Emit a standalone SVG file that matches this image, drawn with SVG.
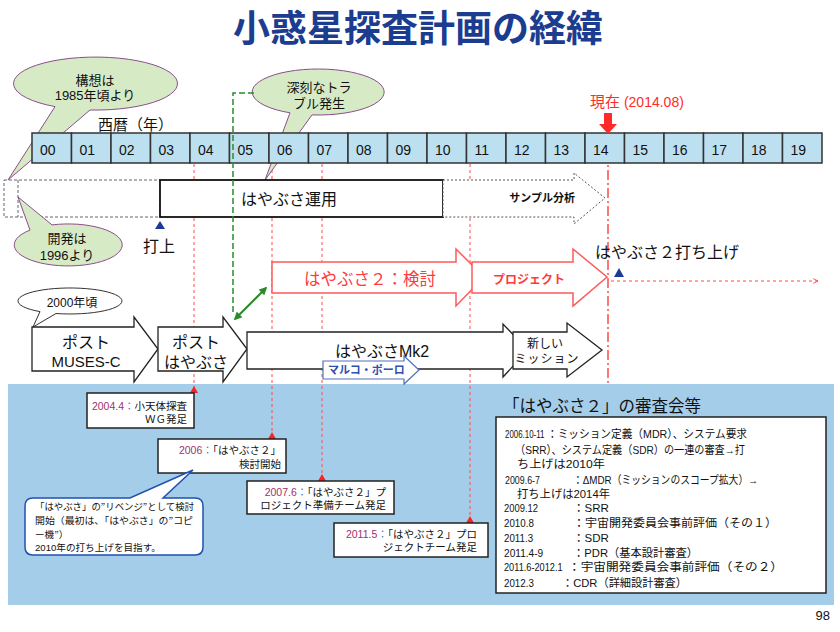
<svg xmlns="http://www.w3.org/2000/svg" width="840" height="632" viewBox="0 0 840 632">
<defs>
<style>
text{font-family:'Liberation Sans','Noto Sans CJK JP',sans-serif;fill:#111}
.cell{fill:#bde0f1;stroke:#333;stroke-width:1.5}
.yr{font-size:14px}
.bub{fill:#d6eac6;stroke:#8b4f8b;stroke-width:1}
.wa{fill:#fff;stroke:#222;stroke-width:1.3}
.ra{fill:#fff;stroke:#ff5a5a;stroke-width:1.5}
.rt{fill:#ff3b3b}
.rd{stroke:#ff4a4a;stroke-width:1;stroke-dasharray:3 3;fill:none}
.rtri{fill:#ff2020}
.btri{fill:#1a3a9a}
.bx{fill:#fff;stroke:#222;stroke-width:1.5}
.dt{fill:#a0306e}
.cl{fill:#4a78d0}
.bt{font-size:10.5px}
.rv{font-size:11.5px}
.cb{font-size:9.6px}
.q{font-family:'Noto Sans CJK JP',sans-serif}
</style>
<marker id="chev" viewBox="0 0 10 10" refX="9" refY="5" markerWidth="6" markerHeight="6" orient="auto"><path d="M1,1 L9,5 L1,9" fill="none" stroke="#ff4a4a" stroke-width="1.5"/></marker>
<marker id="garr" viewBox="0 0 10 10" refX="8" refY="5" markerWidth="4" markerHeight="4" orient="auto-start-reverse"><path d="M0,0 L10,5 L0,10 z" fill="#2a8a2a"/></marker>
</defs>
<rect width="840" height="632" fill="#fff"/>

<g id="title"><text x="418" y="42" text-anchor="middle" font-size="37" font-weight="bold" style="fill:#1b3c8f">小惑星探査計画の経緯</text></g>

<g id="panel"><rect x="8" y="384" width="826" height="221" fill="#a4cde9"/></g>

<g id="connectors">
<line class="rd" x1="194" y1="164" x2="194" y2="387"/>
<line class="rd" x1="272" y1="164" x2="272" y2="433"/>
<line class="rd" x1="322" y1="164" x2="322" y2="475"/>
<line class="rd" x1="470" y1="164" x2="470" y2="517"/>
<line x1="608" y1="134" x2="608" y2="386" stroke="#ff4a4a" stroke-width="1.5" stroke-dasharray="10 3 2 3"/>
<polygon class="rtri" points="190,393 198,393 194,386"/>
<polygon class="rtri" points="268,439 276,439 272,432"/>
<polygon class="rtri" points="318,481 326,481 322,474"/>
<polygon class="rtri" points="466,523 474,523 470,516"/>
<line x1="611" y1="281" x2="818" y2="281" stroke="#ff4a4a" stroke-width="1" stroke-dasharray="3 3" marker-end="url(#chev)"/>
</g>

<g id="callout-kousou">
<path class="bub" d="M90,110 L8,180 L55,106.6 A82 26.5 0 1 1 90,110 Z"/>
<text x="95" y="85" text-anchor="middle" font-size="13">構想は</text>
<text x="95" y="100" text-anchor="middle" font-size="13">1985年頃より</text>
</g>
<g id="callout-trouble">
<path class="bub" d="M312,114.9 L265,180 L290,112.8 A66 23 0 1 1 312,114.9 Z"/>
<text x="319" y="92" text-anchor="middle" font-size="13">深刻なトラ</text>
<text x="319" y="108" text-anchor="middle" font-size="13">ブル発生</text>
</g>

<g id="timeline">
<text x="98" y="130" font-size="15">西暦（年）</text>
<rect class="cell" x="32" y="133" width="39.5" height="30"/><text class="yr" x="40" y="155">00</text>
<rect class="cell" x="71.5" y="133" width="39.5" height="30"/><text class="yr" x="79.5" y="155">01</text>
<rect class="cell" x="111" y="133" width="39.5" height="30"/><text class="yr" x="119" y="155">02</text>
<rect class="cell" x="150.5" y="133" width="39.5" height="30"/><text class="yr" x="158.5" y="155">03</text>
<rect class="cell" x="190" y="133" width="39.5" height="30"/><text class="yr" x="198" y="155">04</text>
<rect class="cell" x="229.5" y="133" width="39.5" height="30"/><text class="yr" x="237.5" y="155">05</text>
<rect class="cell" x="269" y="133" width="39.5" height="30"/><text class="yr" x="277" y="155">06</text>
<rect class="cell" x="308.5" y="133" width="39.5" height="30"/><text class="yr" x="316.5" y="155">07</text>
<rect class="cell" x="348" y="133" width="39.5" height="30"/><text class="yr" x="356" y="155">08</text>
<rect class="cell" x="387.5" y="133" width="39.5" height="30"/><text class="yr" x="395.5" y="155">09</text>
<rect class="cell" x="427" y="133" width="39.5" height="30"/><text class="yr" x="435" y="155">10</text>
<rect class="cell" x="466.5" y="133" width="39.5" height="30"/><text class="yr" x="474.5" y="155">11</text>
<rect class="cell" x="506" y="133" width="39.5" height="30"/><text class="yr" x="514" y="155">12</text>
<rect class="cell" x="545.5" y="133" width="39.5" height="30"/><text class="yr" x="553.5" y="155">13</text>
<rect class="cell" x="585" y="133" width="39.5" height="30"/><text class="yr" x="593" y="155">14</text>
<rect class="cell" x="624.5" y="133" width="39.5" height="30"/><text class="yr" x="632.5" y="155">15</text>
<rect class="cell" x="664" y="133" width="39.5" height="30"/><text class="yr" x="672" y="155">16</text>
<rect class="cell" x="703.5" y="133" width="39.5" height="30"/><text class="yr" x="711.5" y="155">17</text>
<rect class="cell" x="743" y="133" width="39.5" height="30"/><text class="yr" x="751" y="155">18</text>
<rect class="cell" x="782.5" y="133" width="39.5" height="30"/><text class="yr" x="790.5" y="155">19</text>
</g>

<g id="now">
<text x="590" y="107" font-size="15" style="fill:#ff2a2a">現在<tspan font-size="14"> (2014.08)</tspan></text>
<polygon points="604,113 612,113 612,124 617,124 608,134 599,124 604,124" fill="#ff2a2a"/>
</g>

<g id="development">
<rect x="4" y="180" width="156" height="37" fill="none" stroke="#666" stroke-width="1" stroke-dasharray="3 2"/>
<line x1="18" y1="180" x2="18" y2="217" stroke="#666" stroke-width="1" stroke-dasharray="3 2"/>
</g>
<g id="callout-kaihatsu">
<path class="bub" d="M30,230.1 L18,197 L52,224.9 A54 21 0 1 1 30,230.1 Z"/>
<text x="67" y="243" text-anchor="middle" font-size="13">開発は</text>
<text x="67" y="260" text-anchor="middle" font-size="13">1996より</text>
</g>

<g id="operation">
<rect x="160" y="180" width="283" height="37" fill="#fff" stroke="#111" stroke-width="1.8"/>
<text x="289" y="205" text-anchor="middle" font-size="16">はやぶさ運用</text>
</g>
<g id="sample">
<polygon points="443,180 574,180 574,173 605,198 574,224 574,217 443,217" fill="#fff" stroke="#555" stroke-width="1" stroke-dasharray="2 2"/>
<text x="575" y="202" text-anchor="end" font-size="11" font-weight="bold">サンプル分析</text>
</g>
<g id="launch">
<polygon class="btri" points="155,229 165,229 160,221"/>
<text x="159" y="252" text-anchor="middle" font-size="16">打上</text>
</g>

<g id="h2-study">
<polygon class="ra" points="272,262 456,262 456,249 484,277 456,306 456,293 272,293"/>
<text class="rt" x="370" y="285" text-anchor="middle" font-size="16.5">はやぶさ２：検討</text>
</g>
<g id="h2-project">
<polygon class="ra" points="472,262 573,262 573,249 607,277 573,306 573,293 472,293"/>
<text class="rt" x="529" y="284" text-anchor="middle" font-size="12" font-weight="bold">プロジェクト</text>
</g>
<g id="h2-launch">
<text x="595" y="258" font-size="16">はやぶさ２打ち上げ</text>
<polygon class="btri" points="614,277 624,277 619,268"/>
</g>

<g id="callout-2000">
<path d="M56,313.5 L33,327 L40,311.6 A52 13 0 1 1 56,313.5 Z" fill="#fff" stroke="#333" stroke-width="1"/>
<text x="72" y="307" text-anchor="middle" font-size="12">2000年頃</text>
</g>
<g id="post-muses">
<polygon class="wa" points="32,327 134,327 134,317 158,349 134,382 134,371 32,371"/>
<text x="86" y="348" text-anchor="middle" font-size="16">ポスト</text>
<text x="86" y="367" text-anchor="middle" font-size="15">MUSES-C</text>
</g>
<g id="post-hayabusa">
<polygon class="wa" points="158,327 223,327 223,317 247,349 223,382 223,371 158,371"/>
<text x="196" y="348" text-anchor="middle" font-size="16">ポスト</text>
<text x="196" y="368" text-anchor="middle" font-size="16">はやぶさ</text>
</g>
<g id="mk2">
<polygon class="wa" points="247,332 503,332 503,324 528,350 503,377 503,369 247,369"/>
<text x="335" y="357" font-size="16">はやぶさMk2</text>
</g>
<g id="marco-polo">
<polygon points="323,361 404,361 404,356 419,370 404,384 404,379 323,379" fill="#fff" stroke="#5070c0" stroke-width="1.2"/>
<text x="328" y="374" font-size="11" font-weight="bold" style="fill:#3050b0">マルコ・ポーロ</text>
</g>
<g id="new-mission">
<polygon class="wa" points="513,332 567,332 567,323 602,350 567,377 567,369 513,369"/>
<text x="545" y="348" text-anchor="middle" font-size="12">新しい</text>
<text x="547" y="363" text-anchor="middle" font-size="12" letter-spacing="1">ミッション</text>
</g>

<g id="green-link">
<polyline points="254,93 233,93 233,314" fill="none" stroke="#2a8a2a" stroke-width="1.5" stroke-dasharray="6 3"/>
<line x1="235" y1="319" x2="266" y2="288" stroke="#2a8a2a" stroke-width="2" marker-start="url(#garr)" marker-end="url(#garr)"/>
</g>

<g id="box-2004">
<rect class="bx" x="87" y="393" width="107" height="35"/>
<text class="bt" x="187" y="410" text-anchor="end"><tspan class="dt">2004.4</tspan><tspan class="cl">：</tspan>小天体探査</text>
<text class="bt" x="187" y="423" text-anchor="end">ＷＧ発足</text>
</g>
<g id="box-2006">
<rect class="bx" x="158" y="439" width="128" height="34"/>
<text class="bt" x="281" y="454" text-anchor="end"><tspan class="dt">2006</tspan><tspan class="cl">：</tspan>「はやぶさ２」</text>
<text class="bt" x="281" y="468" text-anchor="end">検討開始</text>
</g>
<g id="box-2007">
<rect class="bx" x="247" y="481" width="147" height="33"/>
<text class="bt" x="386" y="496" text-anchor="end"><tspan class="dt">2007.6</tspan><tspan class="cl">：</tspan>「はやぶさ２」プ</text>
<text class="bt" x="386" y="509" text-anchor="end">ロジェクト準備チーム発足</text>
</g>
<g id="box-2011">
<rect class="bx" x="334" y="523" width="154" height="34"/>
<text class="bt" x="477" y="538" text-anchor="end"><tspan class="dt">2011.5</tspan><tspan class="cl">：</tspan>「はやぶさ２」プロ</text>
<text class="bt" x="477" y="551" text-anchor="end">ジェクトチーム発足</text>
</g>
<g id="callout-revenge">
<path d="M33,498 L130,498 L193,470 L163,498 L195,498 Q203,498 203,506 L203,547 Q203,555 195,555 L33,555 Q25,555 25,547 L25,506 Q25,498 33,498 Z" fill="#fff" stroke="#2050b0" stroke-width="1.5"/>
<text class="cb" x="35" y="510" textLength="159" lengthAdjust="spacingAndGlyphs">「はやぶさ」の<tspan class="q">”</tspan>リベンジ<tspan class="q">”</tspan>として検討</text>
<text class="cb" x="35" y="524" textLength="158" lengthAdjust="spacingAndGlyphs">開始（最初は、「はやぶさ」の<tspan class="q">”</tspan>コピ</text>
<text class="cb" x="35" y="537.5">ー機<tspan class="q">”</tspan>）</text>
<text class="cb" x="35" y="551">2010年の打ち上げを目指す。</text>
</g>

<g id="reviews">
<text x="503" y="412" font-size="16.5">「はやぶさ２」の審査会等</text>
<rect class="bx" x="496" y="417" width="330" height="176"/>
<text class="rv" transform="translate(505,438) scale(0.69,1)">2006.10-11</text>
<text class="rv" x="547" y="438" textLength="200" lengthAdjust="spacingAndGlyphs">：ミッション定義（MDR）、システム要求</text>
<text class="rv" x="515" y="454" textLength="230" lengthAdjust="spacingAndGlyphs">（SRR）、システム定義（SDR）の一連の審査→打</text>
<text class="rv" x="517" y="468" textLength="88" lengthAdjust="spacingAndGlyphs">ち上げは2010年</text>
<text class="rv" transform="translate(505,484) scale(0.77,1)">2009.6-7</text>
<text class="rv" x="573" y="484" textLength="185" lengthAdjust="spacingAndGlyphs">：ΔMDR（ミッションのスコープ拡大）→</text>
<text class="rv" x="517" y="498" textLength="93" lengthAdjust="spacingAndGlyphs">打ち上げは2014年</text>
<text class="rv" transform="translate(504,512) scale(0.82,1)">2009.12</text>
<text class="rv" x="573" y="512">：SRR</text>
<text class="rv" transform="translate(504,527) scale(0.85,1)">2010.8</text>
<text class="rv" x="573" y="527" textLength="204" lengthAdjust="spacingAndGlyphs">：宇宙開発委員会事前評価（その１）</text>
<text class="rv" transform="translate(504,542) scale(0.85,1)">2011.3</text>
<text class="rv" x="573" y="542">：SDR</text>
<text class="rv" transform="translate(504,557) scale(0.88,1)">2011.4-9</text>
<text class="rv" x="573" y="557" textLength="125" lengthAdjust="spacingAndGlyphs">：PDR（基本設計審査）</text>
<text class="rv" transform="translate(504,571) scale(0.8,1)">2011.6-2012.1</text>
<text class="rv" x="568" y="571" textLength="215" lengthAdjust="spacingAndGlyphs">：宇宙開発委員会事前評価（その２）</text>
<text class="rv" transform="translate(504,587) scale(0.85,1)">2012.3</text>
<text class="rv" x="562" y="587" textLength="125" lengthAdjust="spacingAndGlyphs">：CDR（詳細設計審査）</text>
</g>

<g id="page"><text x="830" y="620" text-anchor="end" font-size="13">98</text></g>
</svg>
